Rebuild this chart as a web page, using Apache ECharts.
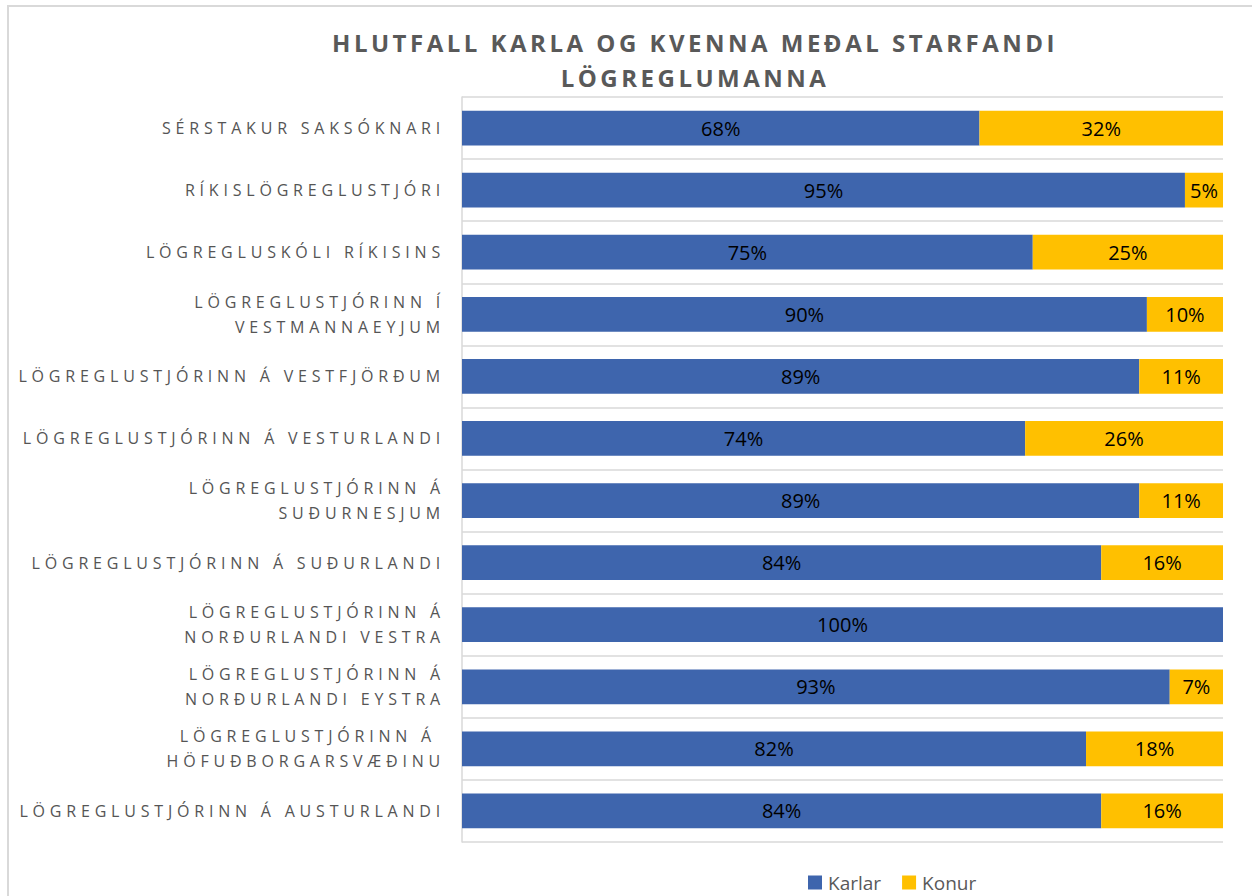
<!DOCTYPE html>
<html>
<head>
<meta charset="utf-8">
<title>Hlutfall karla og kvenna</title>
<script src="https://cdn.jsdelivr.net/npm/echarts@6/dist/echarts.min.js"></script>
<style>
  html, body { margin: 0; padding: 0; background: #fff; }
  #main { width: 1252px; height: 896px; }
</style>
</head>
<body>
<div id="main"></div>
<script>
var titleText = "HLUTFALL KARLA OG KVENNA MEÐAL STARFANDI\nLÖGREGLUMANNA";

var categories = [
  "SÉRSTAKUR SAKSÓKNARI",
  "RÍKISLÖGREGLUSTJÓRI",
  "LÖGREGLUSKÓLI RÍKISINS",
  "LÖGREGLUSTJÓRINN Í\nVESTMANNAEYJUM",
  "LÖGREGLUSTJÓRINN Á VESTFJÖRÐUM",
  "LÖGREGLUSTJÓRINN Á VESTURLANDI",
  "LÖGREGLUSTJÓRINN Á\nSUÐURNESJUM",
  "LÖGREGLUSTJÓRINN Á SUÐURLANDI",
  "LÖGREGLUSTJÓRINN Á\nNORÐURLANDI VESTRA",
  "LÖGREGLUSTJÓRINN Á\nNORÐURLANDI EYSTRA",
  "LÖGREGLUSTJÓRINN Á \nHÖFUÐBORGARSVÆÐINU",
  "LÖGREGLUSTJÓRINN Á AUSTURLANDI"
];

var seriesNames = ["Karlar", "Konur"];
var karlar = [68, 95, 75, 90, 89, 74, 89, 84, 100, 93, 82, 84];
var konur = [32, 5, 25, 10, 11, 26, 11, 16, 0, 7, 18, 16];

var FONT = "'Open Sans', 'Noto Sans', sans-serif";

var chartDom = document.getElementById("main");
var myChart = echarts.init(chartDom, null, { renderer: "svg" });

function pctLabel(p) {
  return p.value ? p.value + "%" : "";
}

var option = {
  animation: false,
  color: ["#3e65ad", "#ffc000"],
  graphic: [
    {
      type: "rect",
      shape: { x: 8, y: 6, width: 1400, height: 1000 },
      style: { fill: "none", stroke: "#d9d9d9", lineWidth: 2 },
      silent: true
    }
  ],
  title: {
    text: titleText,
    left: 690,
    top: 20,
    textAlign: "center",
    textStyle: {
      fontFamily: FONT,
      fontSize: 24,
      fontWeight: "bold",
      color: "#595959",
      lineHeight: 35
    }
  },
  legend: {
    data: seriesNames,
    left: 803,
    top: 868,
    icon: "rect",
    itemWidth: 14,
    itemHeight: 14,
    itemGap: 21,
    textStyle: { fontFamily: FONT, fontSize: 19, color: "#595959", padding: [0, 0, 0, 1] }
  },
  grid: {
    left: 462,
    right: 29,
    top: 97,
    bottom: 54
  },
  xAxis: {
    type: "value",
    min: 0,
    max: 100,
    axisLabel: { show: false },
    axisLine: { show: false },
    axisTick: { show: false },
    splitLine: { show: false }
  },
  yAxis: {
    type: "category",
    inverse: true,
    data: categories,
    axisLine: { show: true, lineStyle: { color: "#d9d9d9", width: 1.5 } },
    axisTick: { show: false },
    splitLine: { show: true, lineStyle: { color: "#d9d9d9", width: 1.5 } },
    axisLabel: {
      fontFamily: FONT,
      fontSize: 16,
      color: "#555555",
      lineHeight: 25,
      margin: 17
    }
  },
  series: [
    {
      name: seriesNames[0],
      type: "bar",
      stack: "total",
      data: karlar,
      barCategoryGap: "44%",
      label: { show: true, position: "inside", color: "#000", fontFamily: FONT, fontSize: 20, formatter: pctLabel }
    },
    {
      name: seriesNames[1],
      type: "bar",
      stack: "total",
      data: konur,
      barCategoryGap: "44%",
      label: { show: true, position: "inside", color: "#000", fontFamily: FONT, fontSize: 20, formatter: pctLabel }
    }
  ]
};

myChart.setOption(option);

// letter spacing as in the original (axis labels and title are tracked out)
function spaceText() {
  var labelLines = [];
  categories.forEach(function (c) {
    c.split("\n").forEach(function (l) { labelLines.push(l.trim()); });
  });
  var titleLines = titleText.split("\n");
  var texts = chartDom.querySelectorAll("svg text");
  for (var i = 0; i < texts.length; i++) {
    var t = texts[i].textContent.trim();
    if (labelLines.indexOf(t) >= 0) {
      texts[i].style.letterSpacing = "4.8px";
    } else if (titleLines.indexOf(t) >= 0) {
      texts[i].style.letterSpacing = "3.5px";
    }
  }
}
spaceText();
</script>
</body>
</html>
